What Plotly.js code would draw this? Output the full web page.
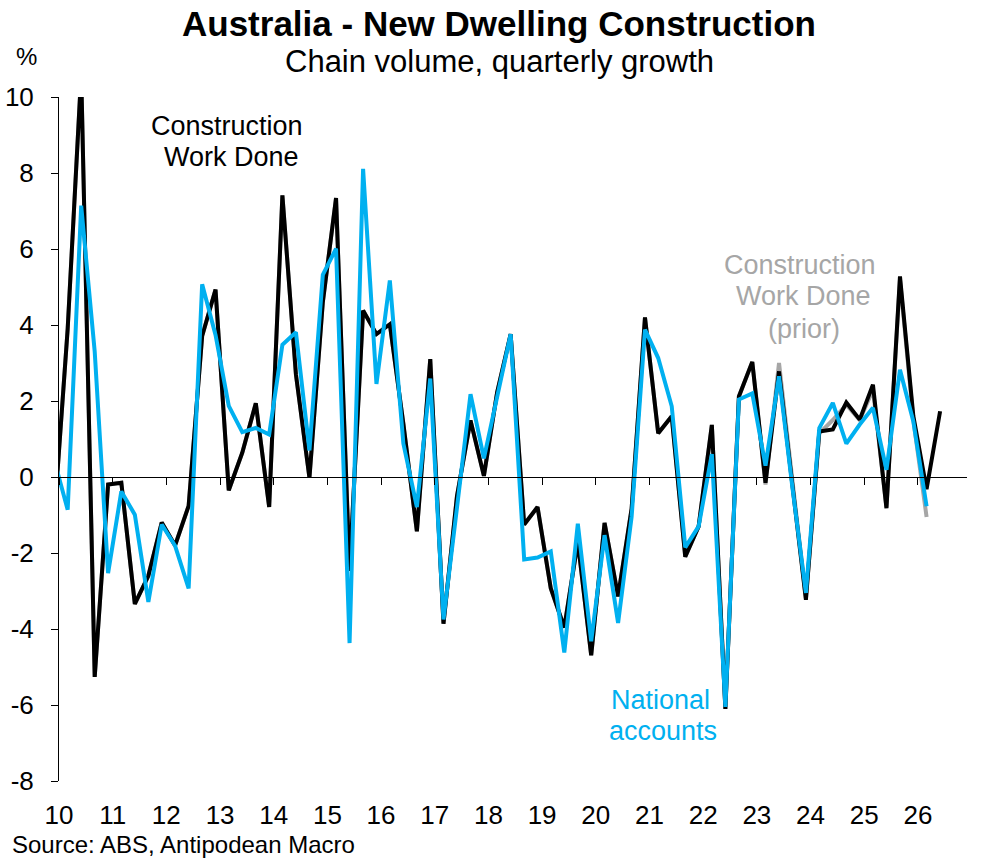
<!DOCTYPE html>
<html>
<head>
<meta charset="utf-8">
<script src="https://cdn.plot.ly/plotly-3.0.1.min.js"></script>
<style>
  html, body { margin: 0; padding: 0; background: #fff; }
  #chart { width: 1002px; height: 862px; }
</style>
</head>
<body>
<div id="chart"></div>
<script>
// Quarterly growth, %, first value is Dec quarter 2009
const startYear = 2009, startQuarter = 4;

// Construction Work Done (latest)
const cwd = [
  -1.0,
  3.9, 10.6, -5.26, -0.2,
  -0.15, -3.34, -2.6, -1.2,
  -1.8, -0.76, 3.71, 4.93,
  -0.35, 0.64, 1.94, -0.79,
  7.41, 2.7, -0.02, 4.6,
  7.34, -2.47, 4.38, 3.76,
  4.02, 1.4, -1.43, 3.1,
  -3.86, -0.5, 1.49, 0.03,
  2.23, 3.76, -1.25, -0.79,
  -2.93, -3.96, -1.7, -4.69,
  -1.21, -3.14, -0.84, 4.2,
  1.15, 1.6, -2.1, -1.3,
  1.37, -6.1, 2.12, 3.03,
  -0.15, 2.78, -0.2, -3.23,
  1.2, 1.25, 1.96, 1.51,
  2.43, -0.82, 5.28, 1.6,
  -0.32, 1.73
];

// Construction Work Done (prior release)
const cwdPrior = [
  -1.0,
  3.9, 10.6, -5.26, -0.2,
  -0.15, -3.34, -2.6, -1.2,
  -1.8, -0.76, 3.71, 4.93,
  -0.35, 0.64, 1.94, -0.79,
  7.41, 2.7, -0.02, 4.6,
  7.34, -2.47, 4.38, 3.76,
  4.02, 1.4, -1.43, 3.1,
  -3.86, -0.5, 1.49, 0.03,
  2.23, 3.76, -1.25, -0.79,
  -2.93, -3.96, -1.7, -4.69,
  -1.21, -3.14, -0.84, 4.2,
  1.15, 1.6, -2.1, -1.3,
  1.37, -6.1, 2.12, 3.03,
  -0.2, 3.0, -0.2, -3.2,
  1.15, 1.5, 1.9, 1.5,
  2.3, -0.8, 5.2, 1.5,
  -1.05
];

// National accounts
const natAccounts = [
  0.43,
  -0.86, 7.14, 3.3, -2.53,
  -0.38, -0.99, -3.29, -1.25,
  -1.81, -2.93, 5.07, 3.74,
  1.87, 1.18, 1.29, 1.12,
  3.48, 3.81, 0.7, 5.32,
  6.01, -4.37, 8.11, 2.45,
  5.17, 0.88, -0.79, 2.59,
  -3.75, -0.8, 2.18, 0.49,
  2.13, 3.76, -2.17, -2.12,
  -1.96, -4.62, -1.23, -4.32,
  -1.53, -3.84, -1.05, 3.88,
  3.13, 1.86, -1.85, -1.3,
  0.6, -6.05, 2.04, 2.2,
  0.3, 2.65, -0.3, -3.05,
  1.29, 1.95, 0.88, 1.38,
  1.82, 0.19, 2.82, 1.46,
  -0.77
];

const yearTicks = [2010, 2011, 2012, 2013, 2014, 2015, 2016, 2017, 2018,
                   2019, 2020, 2021, 2022, 2023, 2024, 2025, 2026];
const yTicks = [-8, -6, -4, -2, 0, 2, 4, 6, 8, 10];

// quarter end months plotted at the start of the month (like the excel date axis)
const quarterDates = [];
for (let i = 0; i < cwd.length; i++) {
  const q = startQuarter - 1 + i;
  const y = startYear + Math.floor(q / 4);
  const m = (q % 4) * 3 + 3;
  quarterDates.push(y + '-' + String(m).padStart(2, '0') + '-01');
}

const FONT = 'Liberation Sans, Arial, sans-serif';
const BLUE = '#00B0F0', GREY = '#A6A6A6';
const xRange = ['2010-01-01', '2026-12-01'];
const tickDates = yearTicks.map(y => y + '-01-01');

// grey sits on the base x axis, the overlaying x2 subplot is drawn above it
const traces = [
  { x: quarterDates.slice(0, cwdPrior.length), y: cwdPrior, type: 'scatter', mode: 'lines',
    line: { color: GREY, width: 4 } },
  { x: quarterDates, y: cwd, xaxis: 'x2', type: 'scatter', mode: 'lines',
    line: { color: '#000000', width: 4 } },
  { x: quarterDates.slice(0, natAccounts.length), y: natAccounts, xaxis: 'x2', type: 'scatter', mode: 'lines',
    line: { color: BLUE, width: 4 } }
];

// pixel helpers for text placed outside the plot area
const plotL = 58.5, plotW = 908.5, plotB = 781, plotH = 684;
const px = v => (v - plotL) / plotW;
const py = v => (plotB - v) / plotH;

function label(text, x, y, size, color, extra) {
  return Object.assign({
    text: text, x: x, y: y, xref: 'paper', yref: 'paper', showarrow: false,
    xanchor: 'center', yanchor: 'middle', font: { family: FONT, size: size, color: color }
  }, extra || {});
}

const annotations = [
  label('<b>Australia - New Dwelling Construction</b>', px(499), py(23), 35, '#000'),
  label('Chain volume, quarterly growth', px(499.5), py(61.5), 31, '#000'),
  label('%', px(26), py(56.5), 24, '#000'),
  label('Source: ABS, Antipodean Macro', px(9), py(844.5), 24, '#000', { xanchor: 'left' }),
  label('Construction', px(226.5), 9.25, 27, '#000', { yref: 'y' }),
  label('Work Done', px(231), 8.41, 27, '#000', { yref: 'y' }),
  label('Construction', px(800), 5.58, 27, GREY, { yref: 'y' }),
  label('Work Done', px(803), 4.76, 27, GREY, { yref: 'y' }),
  label('(prior)', px(804), 3.89, 27, GREY, { yref: 'y' }),
  label('National', px(660), -5.87, 27, BLUE, { yref: 'y' }),
  label('accounts', px(663), -6.68, 27, BLUE, { yref: 'y' })
];

const layout = {
  width: 1002, height: 862,
  margin: { l: plotL, r: 1002 - plotL - plotW, t: 97, b: 862 - plotB },
  paper_bgcolor: '#fff', plot_bgcolor: '#fff',
  showlegend: false,
  font: { family: FONT, color: '#000' },
  xaxis: {
    type: 'date', range: xRange, tickvals: tickDates, tickformat: '%y',
    showgrid: false, zeroline: false, showline: false, ticks: '',
    tickfont: { family: FONT, size: 26, color: '#000' }, ticklabelstandoff: 16
  },
  xaxis2: {
    type: 'date', range: xRange, tickvals: tickDates, overlaying: 'x',
    anchor: 'free', position: 8 / 18, showticklabels: false,
    showgrid: false, zeroline: false, showline: true, linecolor: '#000', linewidth: 1,
    ticks: 'outside', ticklen: 7, tickcolor: '#000', tickwidth: 1
  },
  yaxis: {
    range: [-8, 10], tickvals: yTicks, ticktext: yTicks.map(String),
    showgrid: false, zeroline: false,
    showline: true, linecolor: '#000', linewidth: 1,
    ticks: 'outside', ticklen: 7, tickcolor: '#000', tickwidth: 1,
    tickfont: { family: FONT, size: 26, color: '#000' }, ticklabelstandoff: 12
  },
  annotations: annotations
};

Plotly.newPlot('chart', traces, layout, { displayModeBar: false, staticPlot: true });
</script>
</body>
</html>
